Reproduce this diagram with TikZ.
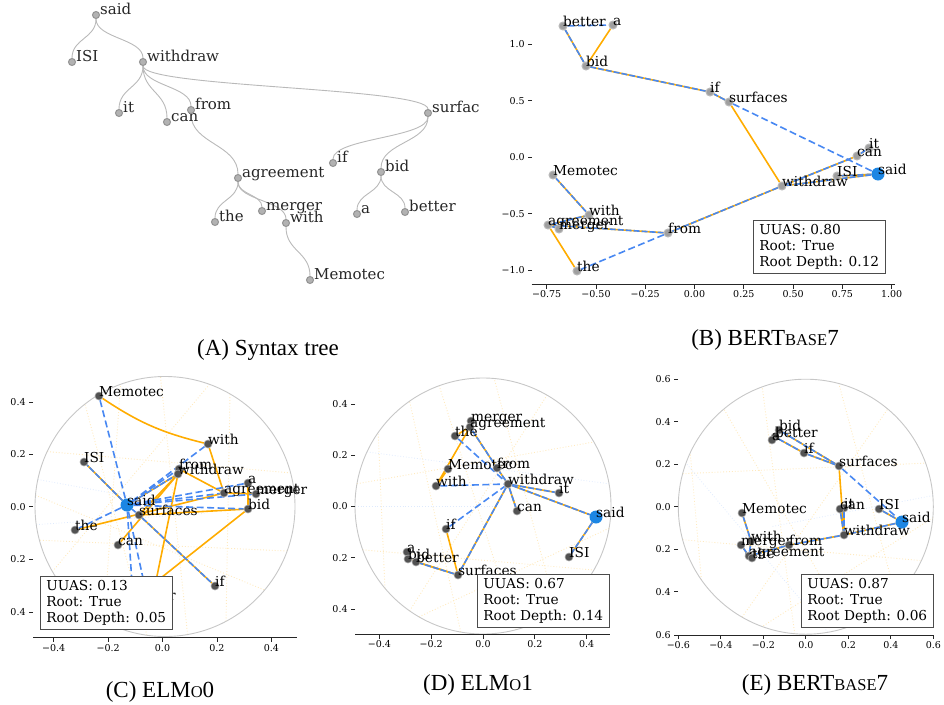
\documentclass[tikz,border=0pt]{standalone}
\usepackage{fontspec}
\setmainfont{Liberation Serif}
\newfontfamily\plotfont{DejaVu Serif}
\usetikzlibrary{backgrounds}

\definecolor{goldorange}{RGB}{255,172,0}
\definecolor{predblue}{RGB}{72,136,242}
\definecolor{rootblue}{RGB}{28,134,228}
\definecolor{tokgray}{RGB}{82,82,82}

\newcommand\fakesc[1]{{\fontsize{16.5}{20}\selectfont #1}}

\tikzset{
	probepicture/.style = {
		x = 1pt,
		y = -1pt,
		synedge/.style = {draw = gray!55, line width = 0.9pt},
		gold/.style = {draw = goldorange, line width = 1.6pt},
		pred/.style = {draw = predblue, line width = 1.6pt, dash pattern = on 7pt off 3.5pt},
		both/.style = {gold, postaction = {draw = predblue, dash pattern = on 6pt off 2pt}},
		faintgold/.style = {draw = goldorange!25, dotted, line width = 0.9pt},
		faintblue/.style = {draw = predblue!18, dotted, line width = 0.8pt},
		spine/.style = {draw = black!85, line width = 0.8pt},
		rim/.style = {draw = black!22, line width = 0.9pt},
	},
	synnode/.style = {circle, inner sep = 0pt, minimum size = 7pt, fill = gray!60, draw = gray!85, line width = 1pt},
	lightnode/.style = {circle, inner sep = 0pt, minimum size = 8pt, fill = gray!75, draw = gray!55, line width = 1pt},
	darknode/.style = {circle, inner sep = 0pt, minimum size = 8pt, fill = tokgray, draw = gray!70, line width = 0.6pt},
	rootnode/.style = {circle, inner sep = 0pt, minimum size = 13pt, fill = rootblue},
	synlabel/.style = {anchor = base west, inner sep = 0pt, xshift = 4pt, yshift = 1pt, text = black!85, font = \plotfont\fontsize{15}{17}\selectfont},
	toklabel/.style = {anchor = base west, inner sep = 0pt, font = \plotfont\fontsize{13.7}{16}\selectfont},
	ticklabel/.style = {inner sep = 0pt, font = \plotfont\fontsize{9.5}{11}\selectfont},
	scorebox/.style = {draw = black!70, fill = white, anchor = north west, align = left, inner xsep = 6pt, inner ysep = 4pt, line width = 0.8pt, font = \plotfont\fontsize{13.7}{15.8}\selectfont},
	caption/.style = {anchor = base, inner sep = 0pt, font = \fontsize{23}{26}\selectfont},
}

\begin{document}
\begin{tikzpicture}[probepicture]
	\useasboundingbox (0,0) rectangle (944,704);

	% (A) syntax tree
	\node[synnode] (a-said) at (96,15) {};          \node[synlabel] (a-said-t) at (a-said.center) {said};
	\node[synnode] (a-ISI) at (72,62) {};           \node[synlabel] (a-ISI-t) at (a-ISI.center) {ISI};
	\node[synnode] (a-withdraw) at (143,62) {};     \node[synlabel] (a-withdraw-t) at (a-withdraw.center) {withdraw};
	\node[synnode] (a-it) at (119,113) {};          \node[synlabel] (a-it-t) at (a-it.center) {it};
	\node[synnode] (a-can) at (167,122) {};         \node[synlabel] (a-can-t) at (a-can.center) {can};
	\node[synnode] (a-from) at (191,110) {};        \node[synlabel] (a-from-t) at (a-from.center) {from};
	\node[synnode] (a-surfac) at (428,113) {};      \node[synlabel] (a-surfac-t) at (a-surfac.center) {surfac};
	\node[synnode] (a-agreement) at (238,178) {};   \node[synlabel] (a-agreement-t) at (a-agreement.center) {agreement};
	\node[synnode] (a-if) at (333,163) {};          \node[synlabel] (a-if-t) at (a-if.center) {if};
	\node[synnode] (a-bid) at (381,172) {};         \node[synlabel] (a-bid-t) at (a-bid.center) {bid};
	\node[synnode] (a-the) at (215,222) {};         \node[synlabel] (a-the-t) at (a-the.center) {the};
	\node[synnode] (a-merger) at (262,211) {};      \node[synlabel] (a-merger-t) at (a-merger.center) {merger};
	\node[synnode] (a-with) at (286,223) {};        \node[synlabel] (a-with-t) at (a-with.center) {with};
	\node[synnode] (a-a) at (357,214) {};           \node[synlabel] (a-a-t) at (a-a.center) {a};
	\node[synnode] (a-better) at (405,212) {};      \node[synlabel] (a-better-t) at (a-better.center) {better};
	\node[synnode] (a-Memotec) at (310,280) {};     \node[synlabel] (a-Memotec-t) at (a-Memotec.center) {Memotec};

	\begin{scope}[on background layer, every path/.style = synedge]
		\draw (a-said) .. controls +(0,23.5) and +(0,-23.5) .. (a-ISI);
		\draw (a-said) .. controls +(0,23.5) and +(0,-23.5) .. (a-withdraw);
		\draw (a-withdraw) .. controls +(0,25.5) and +(0,-25.5) .. (a-it);
		\draw (a-withdraw) .. controls +(0,30) and +(0,-30) .. (a-can);
		\draw (a-withdraw) .. controls +(0,24) and +(0,-24) .. (a-from);
		\draw (a-withdraw) .. controls +(0,25.5) and +(0,-25.5) .. (a-surfac);
		\draw (a-from) .. controls +(0,34) and +(0,-34) .. (a-agreement);
		\draw (a-agreement) .. controls +(0,22) and +(0,-22) .. (a-the);
		\draw (a-agreement) .. controls +(0,16.5) and +(0,-16.5) .. (a-merger);
		\draw (a-agreement) .. controls +(0,22.5) and +(0,-22.5) .. (a-with);
		\draw (a-with) .. controls +(0,28.5) and +(0,-28.5) .. (a-Memotec);
		\draw (a-surfac) .. controls +(0,25) and +(0,-25) .. (a-if);
		\draw (a-surfac) .. controls +(0,29.5) and +(0,-29.5) .. (a-bid);
		\draw (a-bid) .. controls +(0,21) and +(0,-21) .. (a-a);
		\draw (a-bid) .. controls +(0,20) and +(0,-20) .. (a-better);
	\end{scope}

	\node[caption] (a-caption) at (268,355) {(A) Syntax tree};

	% (B) BERTbase7, plain projection
	\draw[spine] (531.7,284.3) -- (895,284.3);
	\foreach \xv/\lbl [count=\i] in {546.7/−0.75, 596.0/−0.50, 645.2/−0.25, 694.5/0.00, 743.8/0.25, 793.1/0.50, 842.3/0.75, 891.6/1.00}
		\draw[spine] (\xv,284.3) -- (\xv,288.5) node[ticklabel, anchor = north, yshift = -2pt] (b-xt\i) {\lbl};
	\foreach \yv/\lbl [count=\i] in {44/1.0, 100.6/0.5, 157.2/0.0, 213.8/−0.5, 270.4/−1.0}
		\draw[spine] (532,\yv) -- (528,\yv) node[ticklabel, anchor = east, xshift = -3pt] (b-yt\i) {\lbl};

	\node[lightnode] (b-better) at (563,26) {};      \node[toklabel] (b-better-t) at (b-better.center) {better};
	\node[lightnode] (b-a) at (613,25) {};           \node[toklabel] (b-a-t) at (b-a.center) {a};
	\node[lightnode] (b-bid) at (586,66) {};         \node[toklabel] (b-bid-t) at (b-bid.center) {bid};
	\node[lightnode] (b-if) at (710,92) {};          \node[toklabel] (b-if-t) at (b-if.center) {if};
	\node[lightnode] (b-surfaces) at (729,102) {};   \node[toklabel] (b-surfaces-t) at (b-surfaces.center) {surfaces};
	\node[lightnode] (b-it) at (869,148) {};         \node[toklabel] (b-it-t) at (b-it.center) {it};
	\node[lightnode] (b-can) at (857,156) {};        \node[toklabel] (b-can-t) at (b-can.center) {can};
	\node[lightnode] (b-ISI) at (837,176) {};        \node[toklabel] (b-ISI-t) at (b-ISI.center) {ISI};
	\node[lightnode] (b-withdraw) at (782,186) {};   \node[toklabel] (b-withdraw-t) at (b-withdraw.center) {withdraw};
	\node[lightnode] (b-Memotec) at (553,175) {};    \node[toklabel] (b-Memotec-t) at (b-Memotec.center) {Memotec};
	\node[lightnode] (b-with) at (589,215) {};       \node[toklabel] (b-with-t) at (b-with.center) {with};
	\node[lightnode] (b-agreement) at (548,225) {};  \node[toklabel] (b-agreement-t) at (b-agreement.center) {agreement};
	\node[lightnode] (b-merger) at (559,229) {};     \node[toklabel] (b-merger-t) at (b-merger.center) {merger};
	\node[lightnode] (b-from) at (668,233) {};       \node[toklabel] (b-from-t) at (b-from.center) {from};
	\node[lightnode] (b-the) at (577,271) {};        \node[toklabel] (b-the-t) at (b-the.center) {the};
	\node[rootnode] (b-said) at (878,174) {};        \node[toklabel] (b-said-t) at (b-said.center) {said};

	\begin{scope}[on background layer]
		\draw[both] (b-said) -- (b-ISI);
		\draw[both] (b-said) -- (b-withdraw);
		\draw[both] (b-withdraw) -- (b-can);
		\draw[both] (b-can) -- (b-it);
		\draw[both] (b-withdraw) -- (b-from);
		\draw[both] (b-from) -- (b-agreement);
		\draw[both] (b-agreement) -- (b-merger);
		\draw[both] (b-agreement) -- (b-with);
		\draw[both] (b-with) -- (b-Memotec);
		\draw[both] (b-surfaces) -- (b-if);
		\draw[both] (b-if) -- (b-bid);
		\draw[both] (b-bid) -- (b-better);
		\draw[gold] (b-withdraw) -- (b-surfaces);
		\draw[gold] (b-agreement) -- (b-the);
		\draw[gold] (b-bid) -- (b-a);
		\draw[pred] (b-better) -- (b-a);
		\draw[pred] (b-surfaces) -- (b-said);
		\draw[pred] (b-from) -- (b-the);
	\end{scope}

	\node[scorebox] (b-score) at (753,220) {UUAS: 0.80\\Root: True\\Root Depth: 0.12};
	\node[caption] (b-caption) at (765,345) {(B) BERT\fakesc{BASE}7};

	% (C) ELMo0, hyperbolic projection
	\begin{scope}[on background layer, shift = {(165,506.5)}]
		\draw[faintgold] (150:130) -- (290:130);
		\draw[faintgold] (118:130) -- (250:130);
		\draw[faintgold] (185:130) -- (40:130);
		\draw[faintgold] (205:130) -- (345:130);
		\draw[faintgold] (98:130) -- (232:130);
		\draw[faintgold] (62:130) -- (300:130);
		\draw[faintgold] (20:130) -- (165:130);
		\draw[faintgold] (80:130) -- (268:130);
		\draw[faintblue] (172:130) -- (10:40);
		\draw[faintblue] (192:130) -- (0:20);
		\draw[rim] (0,0) circle (130);
	\end{scope}
	\draw[spine] (33,637.7) -- (297,637.7);
	\foreach \xv/\lbl [count=\i] in {53.7/−0.4, 108.1/−0.2, 162.5/0.0, 216.9/0.2, 271.3/0.4}
		\draw[spine] (\xv,637.7) -- (\xv,641.9) node[ticklabel, anchor = north, yshift = -2pt] (c-xt\i) {\lbl};
	\foreach \yv/\lbl [count=\i] in {402/0.4, 454.3/0.2, 506.7/0.0, 559/0.2, 612.3/0.4}
		\draw[spine] (33,\yv) -- (29,\yv) node[ticklabel, anchor = east, xshift = -3pt] (c-yt\i) {\lbl};

	\node[darknode] (c-Memotec) at (99,396) {};      \node[toklabel] (c-Memotec-t) at (c-Memotec.center) {Memotec};
	\node[darknode] (c-with) at (208,444) {};        \node[toklabel] (c-with-t) at (c-with.center) {with};
	\node[darknode] (c-ISI) at (84,462) {};          \node[toklabel] (c-ISI-t) at (c-ISI.center) {ISI};
	\node[darknode] (c-from) at (179,469) {};        \node[toklabel] (c-from-t) at (c-from.center) {from};
	\node[darknode] (c-withdraw) at (178,474) {};    \node[toklabel] (c-withdraw-t) at (c-withdraw.center) {withdraw};
	\node[darknode] (c-a) at (248,483) {};           \node[toklabel] (c-a-t) at (c-a.center) {a};
	\node[darknode] (c-agreement) at (224,493) {};   \node[toklabel] (c-agreement-t) at (c-agreement.center) {agreement};
	\node[darknode] (c-merger) at (256,494) {};      \node[toklabel] (c-merger-t) at (c-merger.center) {merger};
	\node[darknode] (c-bid) at (248,509) {};         \node[toklabel] (c-bid-t) at (c-bid.center) {bid};
	\node[darknode] (c-surfaces) at (139,515) {};    \node[toklabel] (c-surfaces-t) at (c-surfaces.center) {surfaces};
	\node[darknode] (c-the) at (75,530) {};          \node[toklabel] (c-the-t) at (c-the.center) {the};
	\node[darknode] (c-can) at (118,545) {};         \node[toklabel] (c-can-t) at (c-can.center) {can};
	\node[darknode] (c-if) at (215,586) {};          \node[toklabel] (c-if-t) at (c-if.center) {if};
	\node[darknode] (c-it) at (150,610) {};          \node[toklabel] (c-it-t) at (c-it.center) {it};
	\node[darknode] (c-better) at (133,600) {};      \node[toklabel] (c-better-t) at (c-better.center) {better};
	\node[rootnode] (c-said) at (127,505) {};        \node[toklabel] (c-said-t) at (c-said.center) {said};

	\begin{scope}[on background layer]
		\draw[gold] (c-withdraw) -- (c-it);
		\draw[gold] (c-withdraw) -- (c-can);
		\draw[gold] (c-withdraw) -- (c-from);
		\draw[gold] (c-withdraw) -- (c-surfaces);
		\draw[gold] (c-from) -- (c-agreement);
		\draw[gold] (c-agreement) -- (c-the);
		\draw[gold] (c-agreement) -- (c-merger);
		\draw[gold] (c-agreement) -- (c-with);
		\draw[gold] (c-Memotec) to[bend right = 10] (c-with);
		\draw[gold] (c-surfaces) -- (c-bid);
		\draw[gold] (c-bid) -- (c-a);
		\draw[gold] (c-bid) -- (c-better);
		\draw[both] (c-said) -- (c-ISI);
		\draw[both] (c-said) -- (c-withdraw);
		\draw[both] (c-surfaces) -- (c-if);
		\draw[pred] (c-said) -- (c-Memotec);
		\draw[pred] (c-said) -- (c-the);
		\draw[pred] (c-said) -- (c-with);
		\draw[pred] (c-said) -- (c-from);
		\draw[pred] (c-said) -- (c-a);
		\draw[pred] (c-said) -- (c-agreement);
		\draw[pred] (c-said) -- (c-merger);
		\draw[pred] (c-said) -- (c-bid);
		\draw[pred] (c-said) -- (c-it);
		\draw[pred] (c-said) -- (c-better);
		\draw[pred] (c-said) -- (c-surfaces);
	\end{scope}

	\node[scorebox] (c-score) at (40,576) {UUAS: 0.13\\Root: True\\Root Depth: 0.05};
	\node[caption] (c-caption) at (160,697) {(C) ELM\fakesc{O}0};

	% (D) ELMo1, hyperbolic projection
	\begin{scope}[on background layer, shift = {(483,506)}]
		\draw[faintgold] (100:128) -- (235:128);
		\draw[faintgold] (125:128) -- (300:128);
		\draw[faintgold] (75:128) -- (250:128);
		\draw[faintgold] (160:128) -- (30:128);
		\draw[faintgold] (190:128) -- (330:128);
		\draw[faintgold] (140:128) -- (215:128);
		\draw[faintgold] (55:128) -- (275:128);
		\draw[faintgold] (10:128) -- (120:128);
		\draw[faintblue] (180:128) -- (0:10);
		\draw[faintblue] (205:128) -- (350:128);
		\draw[rim] (0,0) circle (128);
	\end{scope}
	\draw[spine] (355,634.3) -- (610,634.3);
	\foreach \xv/\lbl [count=\i] in {379.4/−0.4, 431.2/−0.2, 483/0.0, 534.8/0.2, 586.6/0.4}
		\draw[spine] (\xv,634.3) -- (\xv,638.5) node[ticklabel, anchor = north, yshift = -2pt] (d-xt\i) {\lbl};
	\foreach \yv/\lbl [count=\i] in {404.3/0.4, 455.3/0.2, 506.3/0.0, 557.7/0.2, 609/0.4}
		\draw[spine] (355,\yv) -- (351,\yv) node[ticklabel, anchor = east, xshift = -3pt] (d-yt\i) {\lbl};

	\node[darknode] (d-merger) at (471,421) {};      \node[toklabel] (d-merger-t) at (d-merger.center) {merger};
	\node[darknode] (d-agreement) at (470,427) {};   \node[toklabel] (d-agreement-t) at (d-agreement.center) {agreement};
	\node[darknode] (d-the) at (455,436) {};         \node[toklabel] (d-the-t) at (d-the.center) {the};
	\node[darknode] (d-Memotec) at (448,469) {};     \node[toklabel] (d-Memotec-t) at (d-Memotec.center) {Memotec};
	\node[darknode] (d-from) at (497,468) {};        \node[toklabel] (d-from-t) at (d-from.center) {from};
	\node[darknode] (d-with) at (436,486) {};        \node[toklabel] (d-with-t) at (d-with.center) {with};
	\node[darknode] (d-withdraw) at (508,484) {};    \node[toklabel] (d-withdraw-t) at (d-withdraw.center) {withdraw};
	\node[darknode] (d-it) at (559,493) {};          \node[toklabel] (d-it-t) at (d-it.center) {it};
	\node[darknode] (d-can) at (517,511) {};         \node[toklabel] (d-can-t) at (d-can.center) {can};
	\node[darknode] (d-if) at (446,529) {};          \node[toklabel] (d-if-t) at (d-if.center) {if};
	\node[darknode] (d-ISI) at (569,557) {};         \node[toklabel] (d-ISI-t) at (d-ISI.center) {ISI};
	\node[darknode] (d-a) at (407,552) {};           \node[toklabel] (d-a-t) at (d-a.center) {a};
	\node[darknode] (d-bid) at (408,559) {};         \node[toklabel] (d-bid-t) at (d-bid.center) {bid};
	\node[darknode] (d-better) at (416,562) {};      \node[toklabel] (d-better-t) at (d-better.center) {better};
	\node[darknode] (d-surfaces) at (458,575) {};    \node[toklabel] (d-surfaces-t) at (d-surfaces.center) {surfaces};
	\node[rootnode] (d-said) at (596,517) {};        \node[toklabel] (d-said-t) at (d-said.center) {said};

	\begin{scope}[on background layer]
		\draw[gold] (d-agreement) -- (d-the);
		\draw[gold] (d-agreement) -- (d-with);
		\draw[gold] (d-with) -- (d-Memotec);
		\draw[gold] (d-surfaces) -- (d-if);
		\draw[gold] (d-surfaces) -- (d-bid);
		\draw[both] (d-agreement) -- (d-merger);
		\draw[both] (d-agreement) -- (d-from);
		\draw[both] (d-withdraw) -- (d-from);
		\draw[both] (d-withdraw) -- (d-it);
		\draw[both] (d-withdraw) -- (d-can);
		\draw[both] (d-withdraw) -- (d-said);
		\draw[both] (d-said) -- (d-ISI);
		\draw[both] (d-withdraw) -- (d-surfaces);
		\draw[both] (d-surfaces) -- (d-better);
		\draw[both] (d-bid) -- (d-a);
		\draw[pred] (d-the) -- (d-withdraw);
		\draw[pred] (d-with) -- (d-withdraw);
		\draw[pred] (d-if) -- (d-withdraw);
		\draw[pred] (d-better) -- (d-bid);
	\end{scope}

	\node[scorebox] (d-score) at (477,574) {UUAS: 0.67\\Root: True\\Root Depth: 0.14};
	\node[caption] (d-caption) at (478,690) {(D) ELM\fakesc{O}1};

	% (E) BERTbase7, hyperbolic projection
	\begin{scope}[on background layer, shift = {(805.8,506.7)}]
		\draw[faintgold] (95:127.5) -- (250:127.5);
		\draw[faintgold] (120:127.5) -- (310:127.5);
		\draw[faintgold] (70:127.5) -- (230:127.5);
		\draw[faintgold] (165:127.5) -- (25:127.5);
		\draw[faintgold] (195:127.5) -- (340:127.5);
		\draw[faintgold] (145:127.5) -- (205:127.5);
		\draw[faintgold] (45:127.5) -- (285:127.5);
		\draw[faintgold] (5:127.5) -- (110:127.5);
		\draw[faintblue] (80:127.5) -- (200:127.5);
		\draw[faintblue] (355:127.5) -- (150:40);
		\draw[rim] (0,0) circle (127.5);
	\end{scope}
	\draw[spine] (678,635) -- (934,635);
	\foreach \xv/\lbl [count=\i] in {678.3/−0.6, 720.8/−0.4, 763.3/−0.2, 805.8/0.0, 848.3/0.2, 890.8/0.4, 933.3/0.6}
		\draw[spine] (\xv,635) -- (\xv,639.2) node[ticklabel, anchor = north, yshift = -2pt] (e-xt\i) {\lbl};
	\foreach \yv/\lbl [count=\i] in {379/0.6, 421.7/0.4, 464.3/0.2, 506.7/0.0, 549/0.2, 591.7/0.4, 635/0.6}
		\draw[spine] (678,\yv) -- (674,\yv) node[ticklabel, anchor = east, xshift = -3pt] (e-yt\i) {\lbl};

	\node[darknode] (e-bid) at (779,430) {};         \node[toklabel] (e-bid-t) at (e-bid.center) {bid};
	\node[darknode] (e-better) at (775,437) {};      \node[toklabel] (e-better-t) at (e-better.center) {better};
	\node[darknode] (e-a) at (772,440) {};           \node[toklabel] (e-a-t) at (e-a.center) {a};
	\node[darknode] (e-if) at (804,453) {};          \node[toklabel] (e-if-t) at (e-if.center) {if};
	\node[darknode] (e-surfaces) at (839,466) {};    \node[toklabel] (e-surfaces-t) at (e-surfaces.center) {surfaces};
	\node[darknode] (e-Memotec) at (742,513) {};     \node[toklabel] (e-Memotec-t) at (e-Memotec.center) {Memotec};
	\node[darknode] (e-it) at (844,508) {};          \node[toklabel] (e-it-t) at (e-it.center) {it};
	\node[darknode] (e-can) at (840,509) {};         \node[toklabel] (e-can-t) at (e-can.center) {can};
	\node[darknode] (e-ISI) at (879,509) {};         \node[toklabel] (e-ISI-t) at (e-ISI.center) {ISI};
	\node[darknode] (e-withdraw) at (844,535) {};    \node[toklabel] (e-withdraw-t) at (e-withdraw.center) {withdraw};
	\node[darknode] (e-with) at (751,541) {};        \node[toklabel] (e-with-t) at (e-with.center) {with};
	\node[darknode] (e-merger) at (741,545) {};      \node[toklabel] (e-merger-t) at (e-merger.center) {merger};
	\node[darknode] (e-from) at (789,545) {};        \node[toklabel] (e-from-t) at (e-from.center) {from};
	\node[darknode] (e-agreement) at (749,556) {};   \node[toklabel] (e-agreement-t) at (e-agreement.center) {agreement};
	\node[darknode] (e-the) at (752,558) {};         \node[toklabel] (e-the-t) at (e-the.center) {the};
	\node[rootnode] (e-said) at (902,522) {};        \node[toklabel] (e-said-t) at (e-said.center) {said};

	\begin{scope}[on background layer]
		\draw[gold] (e-surfaces) -- (e-withdraw);
		\draw[both] (e-bid) -- (e-surfaces);
		\draw[both] (e-better) -- (e-if);
		\draw[both] (e-if) -- (e-surfaces);
		\draw[both] (e-bid) -- (e-a);
		\draw[both] (e-it) -- (e-withdraw);
		\draw[both] (e-can) -- (e-withdraw);
		\draw[both] (e-ISI) -- (e-said);
		\draw[both] (e-said) -- (e-withdraw);
		\draw[both] (e-withdraw) -- (e-from);
		\draw[both] (e-from) -- (e-agreement);
		\draw[both] (e-agreement) -- (e-the);
		\draw[both] (e-agreement) -- (e-merger);
		\draw[both] (e-agreement) -- (e-with);
		\draw[both] (e-with) -- (e-Memotec);
		\draw[pred] (e-surfaces) -- (e-said);
	\end{scope}

	\node[scorebox] (e-score) at (801,574) {UUAS: 0.87\\Root: True\\Root Depth: 0.06};
	\node[caption] (e-caption) at (815,690) {(E) BERT\fakesc{BASE}7};
\end{tikzpicture}
\end{document}
